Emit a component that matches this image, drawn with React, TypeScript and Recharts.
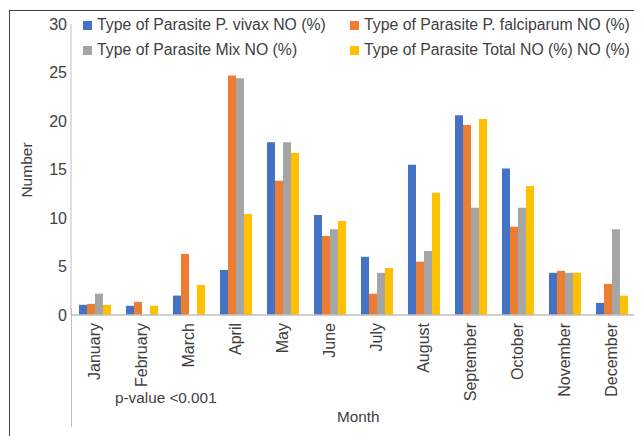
import React from "react";
import { BarChart, Bar, XAxis, YAxis } from "recharts";

const months = ["January","February","March","April","May","June","July","August","September","October","November","December"];
const vivax = [1.05, 0.95, 2.0, 4.65, 17.8, 10.3, 6.0, 15.5, 20.6, 15.1, 4.35, 1.25];
const falciparum = [1.15, 1.35, 6.3, 24.7, 13.85, 8.15, 2.2, 5.5, 19.6, 9.1, 4.55, 3.2];
const mix = [2.2, 0, 0, 24.4, 17.8, 8.85, 4.35, 6.6, 11.05, 11.05, 4.35, 8.85];
const total = [1.05, 0.95, 3.1, 10.4, 16.7, 9.7, 4.85, 12.6, 20.2, 13.3, 4.35, 2.0];
const yTicks = [0, 5, 10, 15, 20, 25, 30];

const seriesNames = [
  "Type of Parasite P. vivax NO (%)",
  "Type of Parasite P. falciparum NO (%)",
  "Type of Parasite Mix NO (%)",
  "Type of Parasite Total NO (%) NO (%)",
];
const colors = ["#4472C4", "#ED7D31", "#A5A5A5", "#FFC000"];
const keys = ["vivax", "falciparum", "mix", "total"];

const data = months.map((m, i) => ({
  month: m,
  vivax: vivax[i],
  falciparum: falciparum[i],
  mix: mix[i],
  total: total[i],
}));

const FONT = "'Liberation Sans', Arial, sans-serif";
const TEXT = "#404040";

const MonthTick = (props: any) => {
  const { x, y, payload } = props;
  return (
    <g transform={`translate(${x},${y})`}>
      <text
        transform="rotate(-90)"
        x={0}
        y={0}
        dy="0.35em"
        textAnchor="end"
        fontSize={16}
        fontFamily={FONT}
        fill={TEXT}
      >
        {payload.value}
      </text>
    </g>
  );
};

export default function App() {
  return (
    <div style={{ position: "relative", width: 634, height: 428, overflow: "hidden", fontFamily: FONT }}>
      <div
        style={{
          position: "absolute",
          left: 1,
          top: 2,
          width: 800,
          height: 800,
          border: "1px solid #404040",
        }}
      />
      <div
        style={{
          position: "absolute",
          left: 63,
          top: 300,
          width: 1,
          height: 119,
          background: "#bfbfbf",
        }}
      />
      <div style={{ position: "absolute", left: 0, top: 0 }}>
        <BarChart
          width={634}
          height={428}
          data={data}
          margin={{ top: 16, right: 7, left: 0, bottom: 0 }}
          barGap={0}
          barCategoryGap="17%"
        >
          <XAxis
            dataKey="month"
            interval={0}
            tickLine={false}
            axisLine={{ stroke: "#bfbfbf", strokeWidth: 1.5 }}
            tick={<MonthTick />}
            height={121}
          />
          <YAxis
            domain={[0, 30]}
            ticks={yTicks}
            width={63}
            tickLine={false}
            tickSize={4}
            axisLine={{ stroke: "#bfbfbf" }}
            tick={{ fontSize: 16, fill: TEXT, fontFamily: FONT }}
            tickMargin={0}
          />
          {keys.map((k, i) => (
            <Bar key={k} dataKey={k} name={seriesNames[i]} fill={colors[i]} isAnimationActive={false} />
          ))}
        </BarChart>
      </div>
      <div
        style={{
          position: "absolute",
          left: 19,
          top: 162,
          transform: "translate(-50%,-50%) rotate(-90deg)",
          transformOrigin: "center",
          fontSize: 15.5,
          color: TEXT,
          whiteSpace: "nowrap",
        }}
      >
        Number
      </div>
      <div style={{ position: "absolute", left: 107, top: 381, fontSize: 15.3, color: TEXT, whiteSpace: "nowrap" }}>
        p-value &lt;0.001
      </div>
      <div style={{ position: "absolute", left: 329, top: 400, fontSize: 15.3, color: TEXT, whiteSpace: "nowrap" }}>
        Month
      </div>
      {seriesNames.map((n, i) => {
        const col = i % 2;
        const row = Math.floor(i / 2);
        return (
          <div
            key={n}
            style={{
              position: "absolute",
              left: col === 0 ? 75 : 342,
              top: row === 0 ? 7 : 32,
              display: "flex",
              alignItems: "center",
              fontSize: 15.8,
              color: TEXT,
              whiteSpace: "nowrap",
              height: 20,
            }}
          >
            <span style={{ display: "inline-block", width: 9, height: 9, background: colors[i], marginRight: 5 }} />
            {n}
          </div>
        );
      })}
    </div>
  );
}
